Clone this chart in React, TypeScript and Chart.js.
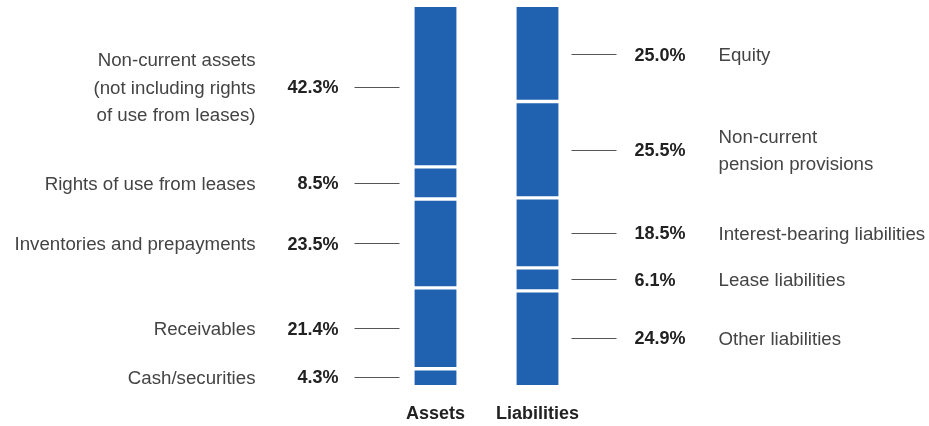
import React, { useEffect, useRef } from "react";
import { Chart, registerables } from "chart.js";

Chart.register(...registerables);

const categories = ["Assets", "Liabilities"];

// bottom to top
const assetLabels: string[][] = [
  ["Cash/securities"],
  ["Receivables"],
  ["Inventories and prepayments"],
  ["Rights of use from leases"],
  ["Non-current assets", "(not including rights", "of use from leases)"],
];
const assetValues = [4.3, 21.4, 23.5, 8.5, 42.3];

const liabilityLabels: string[][] = [
  ["Other liabilities"],
  ["Lease liabilities"],
  ["Interest-bearing liabilities"],
  ["Non-current", "pension provisions"],
  ["Equity"],
];
const liabilityValues = [24.9, 6.1, 18.5, 25.5, 25.0];

const BAR_COLOR = "#2062B0";
const FONT = "'Liberation Sans', Arial, sans-serif";

const labelPlugin = {
  id: "segLabels",
  afterDatasetsDraw(chart: any) {
    const ctx = chart.ctx;
    ctx.save();
    const n = assetValues.length;
    const dy = 1.5;
    for (let i = 0; i < n; i++) {
      const meta = chart.getDatasetMeta(i);
      const a = meta.data[0];
      const l = meta.data[1];
      // Assets (left side)
      {
        const cy = (a.y + a.base) / 2;
        const left = a.x - a.width / 2;
        ctx.strokeStyle = "#555";
        ctx.lineWidth = 1;
        ctx.beginPath();
        ctx.moveTo(left - 60, Math.round(cy) + 0.5);
        ctx.lineTo(left - 15, Math.round(cy) + 0.5);
        ctx.stroke();
        ctx.textBaseline = "middle";
        ctx.textAlign = "right";
        ctx.fillStyle = "#222";
        ctx.font = `bold 18px ${FONT}`;
        ctx.fillText(assetValues[i].toFixed(1) + "%", left - 76, cy + dy);
        ctx.fillStyle = "#444";
        ctx.font = `18.7px ${FONT}`;
        const lines = assetLabels[i];
        const lh = 27.5;
        const start = cy - ((lines.length - 1) * lh) / 2;
        lines.forEach((t, k) => ctx.fillText(t, left - 159, start + k * lh + dy));
      }
      // Liabilities (right side)
      {
        const cy = (l.y + l.base) / 2;
        const right = l.x + l.width / 2;
        ctx.strokeStyle = "#555";
        ctx.lineWidth = 1;
        ctx.beginPath();
        ctx.moveTo(right + 13, Math.round(cy) + 0.5);
        ctx.lineTo(right + 58, Math.round(cy) + 0.5);
        ctx.stroke();
        ctx.textBaseline = "middle";
        ctx.textAlign = "left";
        ctx.fillStyle = "#222";
        ctx.font = `bold 18px ${FONT}`;
        ctx.fillText(liabilityValues[i].toFixed(1) + "%", right + 76, cy + dy);
        ctx.fillStyle = "#444";
        ctx.font = `18.7px ${FONT}`;
        const lines = liabilityLabels[i];
        const lh = 27.5;
        const start = cy - ((lines.length - 1) * lh) / 2;
        lines.forEach((t, k) => ctx.fillText(t, right + 160, start + k * lh + dy));
      }
    }
    // category labels
    const m0 = chart.getDatasetMeta(0);
    ctx.fillStyle = "#222";
    ctx.font = `bold 18px ${FONT}`;
    ctx.textAlign = "center";
    ctx.textBaseline = "middle";
    categories.forEach((c, j) => {
      ctx.fillText(c, m0.data[j].x, 414);
    });
    ctx.restore();
  },
};

export default function App() {
  const ref = useRef<HTMLCanvasElement>(null);
  useEffect(() => {
    if (!ref.current) return;
    const n = assetValues.length;
    const datasets = assetValues.map((v, i) => ({
      label: assetLabels[i].join(" ") + " / " + liabilityLabels[i].join(" "),
      data: [v, liabilityValues[i]],
      backgroundColor: BAR_COLOR,
      borderColor: "#ffffff",
      borderSkipped: false as const,
      borderWidth:
        i === 0
          ? { top: 2, bottom: 0, left: 0, right: 0 }
          : i === n - 1
          ? { top: 0, bottom: 2, left: 0, right: 0 }
          : { top: 2, bottom: 2, left: 0, right: 0 },
      barThickness: 42,
    }));
    const chart = new Chart(ref.current, {
      type: "bar",
      data: { labels: categories, datasets },
      options: {
        animation: false,
        responsive: true,
        maintainAspectRatio: false,
        layout: { padding: { left: 384.5, right: 340.5, top: 7, bottom: 41 } },
        plugins: { legend: { display: false }, tooltip: { enabled: false } },
        scales: {
          x: { stacked: true, display: false },
          y: { stacked: true, display: false, min: 0, max: 100 },
        },
      },
      plugins: [labelPlugin],
    });
    return () => chart.destroy();
  }, []);
  return (
    <div style={{ position: "absolute", left: 0, top: 0, width: 929, height: 426, background: "#fff" }}>
      <canvas ref={ref} />
    </div>
  );
}
